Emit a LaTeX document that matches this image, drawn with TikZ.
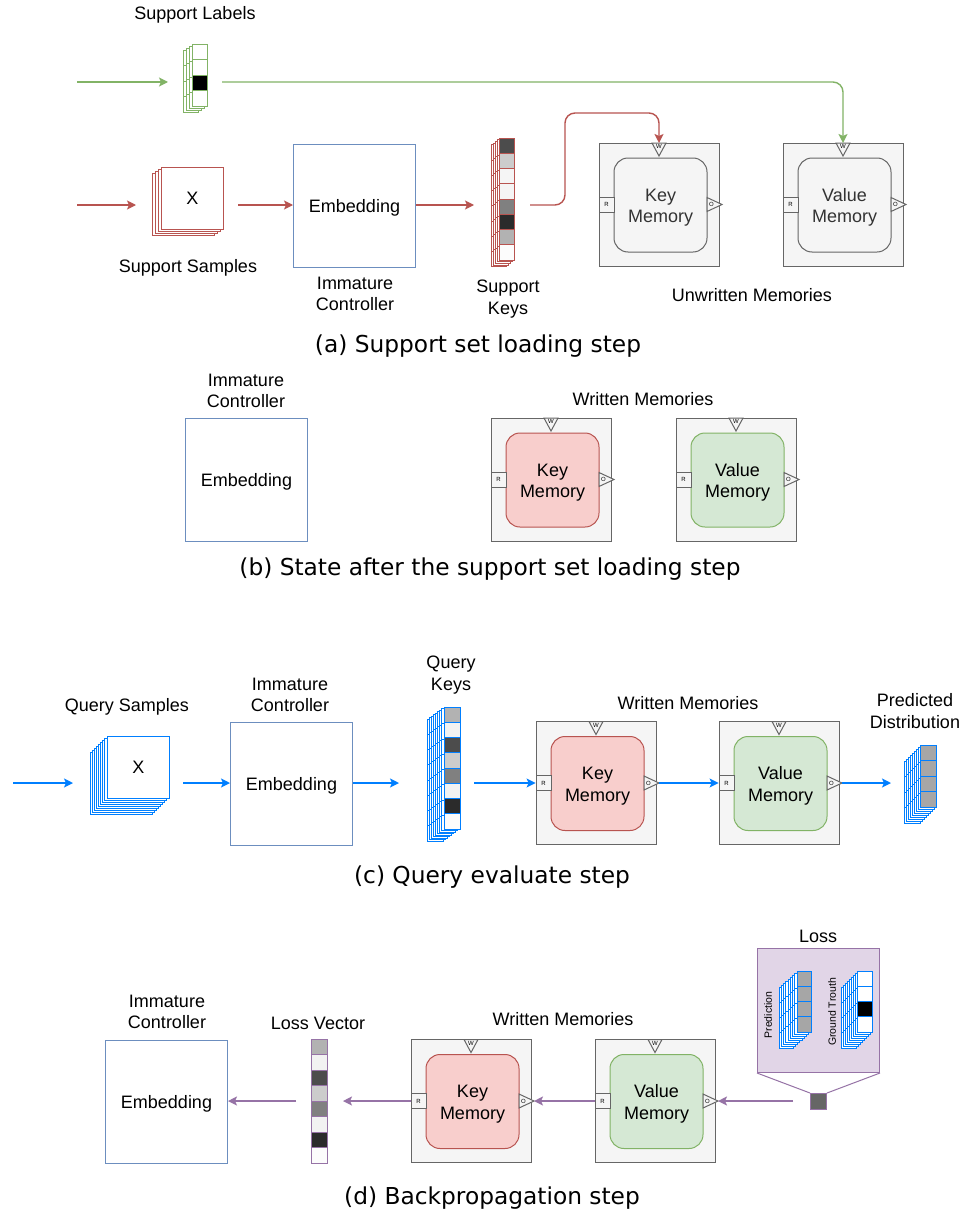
\documentclass[tikz,border=0pt]{standalone}
\usepackage{fontspec}
\setmainfont{Liberation Sans}
\newfontfamily\capfont{DejaVu Sans}
\usetikzlibrary{arrows.meta}
\definecolor{redS}{HTML}{B85450}
\definecolor{redF}{HTML}{F8CECC}
\definecolor{greenS}{HTML}{82B366}
\definecolor{greenF}{HTML}{D5E8D4}
\definecolor{embS}{HTML}{6C8EBF}
\definecolor{arrB}{HTML}{007FFF}
\definecolor{purS}{HTML}{9673A6}
\definecolor{purF}{HTML}{E1D5E7}
\definecolor{memS}{HTML}{666666}
\definecolor{memF}{HTML}{F5F5F5}
\tikzset{
  lbl/.style={font=\fontsize{18}{21.5}\selectfont, align=center, inner sep=0pt},
  captxt/.style={font=\capfont\fontsize{23.3}{27}\selectfont, inner sep=0pt},
  embbox/.style={draw=embS, fill=white, line width=1pt, minimum width=122pt, minimum height=123pt, inner sep=0pt, text depth=0pt, font=\fontsize{18}{21.5}\selectfont, anchor=north west},
  memouter/.style={draw=memS, fill=memF, line width=1pt, minimum width=120pt, minimum height=123pt, inner sep=0pt},
  meminner/.style={rounded corners=14pt, minimum width=93pt, minimum height=94pt, line width=1pt, inner sep=0pt},
  greymem/.style={draw=memS, fill=memF, text=black!80},
  redmem/.style={draw=redS, fill=redF},
  greenmem/.style={draw=greenS, fill=greenF},
  memR/.style={draw=memS, fill=memF, line width=0.8pt, minimum size=15pt, inner sep=0pt, font=\fontsize{6}{6}\selectfont},
  memtri/.style={draw=memS, fill=memF, line width=1pt, line join=miter},
  tinyl/.style={inner sep=0pt, font=\fontsize{6}{6}\selectfont},
  stackline/.style={line width=0.9pt},
  arrw/.style={-{Stealth[length=9pt,width=9pt,inset=2pt]}, line width=1.4pt},
}
\newcommand\memblock[5]{%
\begin{scope}[shift={(#2,#3)}]
 \node[memouter] (#1) at (60,61.5) {};
 \node[meminner,#4] (#1-in) at (61.5,62) {};
 \node[#4, draw=none, fill=none, lbl] (#1-t) at (61.5,64.5) {#5};
 \node[memR] (#1-R) at (7.5,61.5) {R};
 \draw[memtri] (108,54.5) -- (123,61.5) -- (108,68.5) -- cycle;
 \node[tinyl] (#1-Ol) at (112.5,61.5) {O};
 \coordinate (#1-O) at (123,61.5);
 \draw[memtri] (53,0) -- (67,0) -- (60,13) -- cycle;
 \node[tinyl] (#1-Wl) at (60,3.5) {W};
 \coordinate (#1-W) at (60,0);
\end{scope}}
\newcommand\colstack[9]{%
 \ifnum#6>0
 \foreach \k in {#6,...,1}{%
   \foreach \c [count=\i from 0] in \cells {%
     \draw[stackline,draw=#9,fill=white] ({#2-\k*#7},{#3+\k*#8+\i*#5}) rectangle ++(#4,#5);}}
 \fi
 \foreach \c [count=\i from 0] in \cells {%
   \draw[stackline,draw=#9,fill=\c] ({#2},{#3+\i*#5}) rectangle ++(#4,#5);}
 \coordinate (#1) at (#2,#3);
}
\begin{document}
\begin{tikzpicture}[x=1pt,y=-1pt]
\fill[white] (0,0) rectangle (976,1220);
\path[use as bounding box] (0,0) rectangle (976,1220);

% ---------------- (a) ----------------
\node[lbl] (tSL) at (195,15) {Support Labels};
\def\cells{white,white,black,white}
\colstack{sl}{192}{44}{15}{15.5}{3}{2.7}{2.1}{greenS}
\coordinate (gA) at (77,82);
\coordinate (gB) at (168,82);
\coordinate (gC) at (222,82);
\draw[arrw, greenS] (gA) -- (gB);

\coordinate (rA) at (77,205);
\coordinate (rB) at (136,205);
\draw[arrw, redS] (rA) -- (rB);
\foreach \k in {3,...,1}
  \draw[stackline, draw=redS, fill=white] ({161-\k*2.7},{167+\k*2.3}) rectangle ++(62,62);
\node[draw=redS, fill=white, stackline, minimum size=62pt, inner sep=0pt, text depth=0pt, anchor=north west, font=\fontsize{18}{21.5}\selectfont] (ss) at (161,167) {X};
\node[lbl] (tSS) at (188,268) {Support Samples};
\node[embbox] (embA) at (293,144) {Embedding};
\coordinate (rC) at (238,205);
\draw[arrw, redS] (rC) -- (rC -| embA.west);
\node[lbl] (tICa) at (355,294) {Immature\\Controller};
\def\cells{black!70,black!20,black!4,black!4,black!50,black!83,black!30,black!1}
\colstack{sk}{499}{138}{15}{15.25}{4}{2}{1.7}{redS}
\coordinate (rD) at (474,205);
\draw[arrw, redS] (rD -| embA.east) -- (rD);
\node[lbl] (tSK) at (508,299) {Support\\Keys};
\memblock{aK}{599}{143}{greymem}{Key\\Memory}
\memblock{aV}{783}{143}{greymem}{Value\\Memory}
\coordinate (rE) at (530,205);
\draw[arrw, redS, rounded corners=10pt] (rE) -| (565,113) -| (aK-W);
\draw[arrw, greenS, rounded corners=10pt] (gC) -| (aV-W);
\node[lbl] (tUM) at (752,295) {Unwritten Memories};
\node[captxt] (capA) at (478,346) {(a) Support set loading step};

% ---------------- (b) ----------------
\node[lbl] (tICb) at (246,391) {Immature\\Controller};
\node[embbox] (embB) at (185,418) {Embedding};
\node[lbl] (tWMb) at (643,399) {Written Memories};
\memblock{bK}{491}{418}{redmem}{Key\\Memory}
\memblock{bV}{676}{418}{greenmem}{Value\\Memory}
\node[captxt] (capB) at (490,569) {(b) State after the support set loading step};

% ---------------- (c) ----------------
\node[lbl] (tQS) at (127,707) {Query Samples};
\coordinate (bA) at (13,783);
\coordinate (bB) at (73,783);
\draw[arrw, arrB] (bA) -- (bB);
\foreach \k in {8,...,1}
  \draw[stackline, draw=arrB, fill=white] ({107-\k*2.1},{736+\k*2.1}) rectangle ++(62,62);
\node[draw=arrB, fill=white, stackline, minimum size=62pt, inner sep=0pt, text depth=0pt, anchor=north west, font=\fontsize{18}{21.5}\selectfont] (qs) at (107,736) {X};
\node[lbl] (tICc) at (290,695) {Immature\\Controller};
\node[embbox] (embC) at (230,722) {Embedding};
\coordinate (bC) at (183,783);
\draw[arrw, arrB] (bC) -- (bC -| embC.west);
\node[lbl] (tQK) at (451,675) {Query\\Keys};
\def\cells{black!30,black!5,black!70,black!20,black!50,black!5,black!83,black!1}
\colstack{qk}{444}{707}{16}{15.25}{8}{2.1}{1.5}{arrB}
\coordinate (bD) at (399,783);
\draw[arrw, arrB] (bD -| embC.east) -- (bD);
\node[lbl] (tWMc) at (688,703) {Written Memories};
\memblock{cK}{536}{721.5}{redmem}{Key\\Memory}
\memblock{cV}{719}{721.5}{greenmem}{Value\\Memory}
\coordinate (bE) at (474,783);
\draw[arrw, arrB] (bE) -- (cK-R.west);
\draw[arrw, arrB] (cK-O) -- (cV-R.west);
\coordinate (bF) at (891,783);
\draw[arrw, arrB] (cV-O) -- (bF);
\node[lbl] (tPD) at (915,711) {Predicted\\Distribution};
\def\cells{black!35,black!35,black!35,black!35}
\colstack{pd}{920}{745}{16}{15.5}{8}{2}{2}{arrB}
\node[captxt] (capC) at (492,877) {(c) Query evaluate step};

% ---------------- (d) ----------------
\node[lbl] (tLoss) at (818,936) {Loss};
\node[draw=purS, fill=purF, line width=1pt, minimum width=122pt, minimum height=124pt, inner sep=0pt, anchor=north west] (lossbox) at (757,948) {};
\node[draw=purS, fill=black!60, line width=1pt, minimum size=16pt, inner sep=0pt, anchor=north west] (lsq) at (810,1093) {};
\draw[purS, line width=1pt] (lossbox.south west) -- (lsq.north west);
\draw[purS, line width=1pt] (lossbox.south east) -- (lsq.north east);
\def\cells{black!35,black!35,black!35,black!35}
\colstack{pr}{797}{971}{14}{15.25}{8}{2.25}{2}{arrB}
\def\cells{white,white,black,white}
\colstack{gt}{857}{971}{15}{15.25}{8}{2}{2}{arrB}
\node[rotate=90, inner sep=0pt, font=\fontsize{10.5}{12}\selectfont] (tPr) at (768,1015) {Prediction};
\node[rotate=90, inner sep=0pt, font=\fontsize{10.5}{12}\selectfont] (tGT) at (832,1012) {Ground Trouth};

\memblock{dK}{411}{1039.5}{redmem}{Key\\Memory}
\memblock{dV}{595}{1039.5}{greenmem}{Value\\Memory}
\node[lbl] (tWMd) at (563,1019) {Written Memories};
\coordinate (pA) at (793,1101);
\draw[arrw, purS] (pA) -- (dV-O);
\draw[arrw, purS] (dV-R.west) -- (dK-O);
\coordinate (pB) at (343,1101);
\draw[arrw, purS] (dK-R.west) -- (pB);
\def\cells{black!30,black!5,black!70,black!20,black!50,black!5,black!83,black!1}
\colstack{lv}{311}{1039}{16}{15.5}{0}{0}{0}{purS}
\node[lbl] (tLV) at (318,1023) {Loss Vector};
\node[embbox] (embD) at (105,1040) {Embedding};
\coordinate (pC) at (296,1101);
\draw[arrw, purS] (pC) -- (pC -| embD.east);
\node[lbl] (tICd) at (167,1012) {Immature\\Controller};
\node[captxt] (capD) at (492,1198) {(d) Backpropagation step};
\end{tikzpicture}
\end{document}
